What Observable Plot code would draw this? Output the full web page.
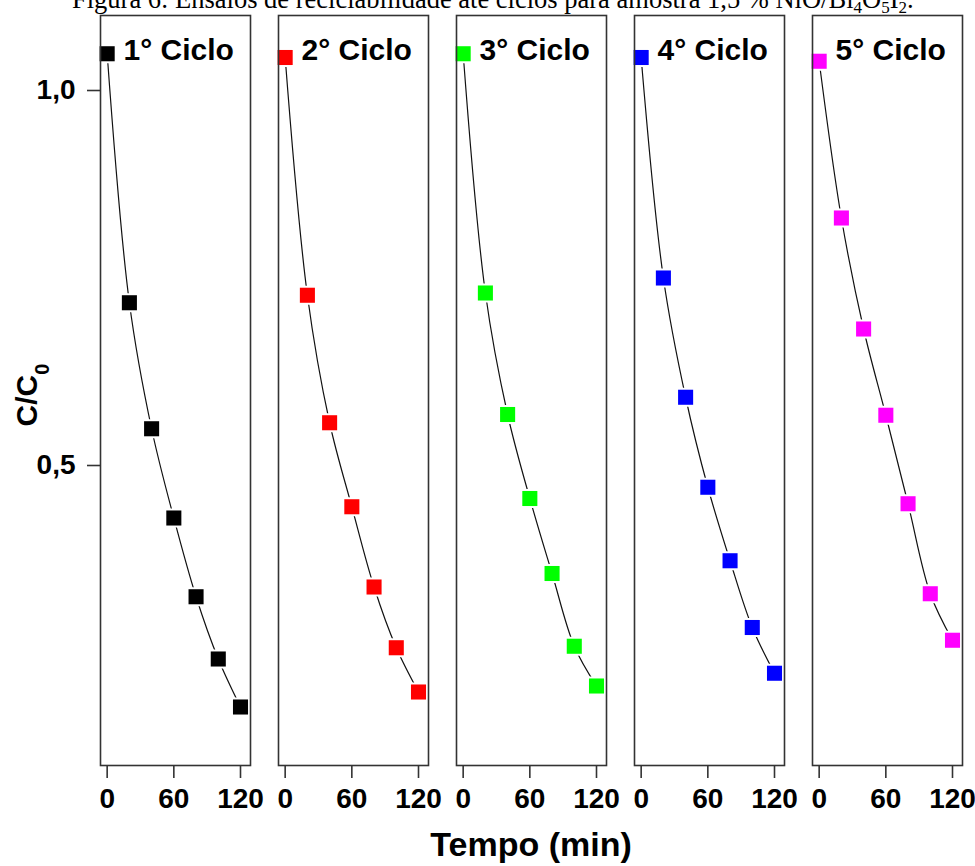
<!DOCTYPE html>
<html>
<head>
<meta charset="utf-8">
<script src="https://cdn.jsdelivr.net/npm/d3@7"></script>
<script src="https://cdn.jsdelivr.net/npm/@observablehq/plot@0.6"></script>
<style>
  html, body { margin: 0; padding: 0; background: #fff; }
  #wrap { position: relative; width: 975px; height: 866px; overflow: hidden; }
  #chart { position: absolute; left: 0; top: 0; }
  #caption {
    position: absolute; left: 72px; top: -14px; z-index: 2;
    font-family: "Liberation Serif", "Times New Roman", serif;
    font-size: 26.5px; line-height: 26.5px; white-space: nowrap; color: #000;
  }
  #caption sub { font-size: 17px; vertical-align: -5px; line-height: 0; }
</style>
</head>
<body>
<div id="wrap">
  <div id="caption">Figura 6: Ensaios de reciclabilidade até ciclos para amostra 1,5 % NiO/Bi<sub>4</sub>O<sub>5</sub>I<sub>2</sub>.</div>
  <div id="chart"></div>
</div>
<script>
const times = [0, 20, 40, 60, 80, 100, 120];
const cycles = ["1° Ciclo", "2° Ciclo", "3° Ciclo", "4° Ciclo", "5° Ciclo"];
const cycle1 = [1.049, 0.717, 0.549, 0.430, 0.325, 0.242, 0.178];
const cycle2 = [1.044, 0.727, 0.557, 0.445, 0.338, 0.257, 0.198];
const cycle3 = [1.049, 0.730, 0.568, 0.456, 0.356, 0.259, 0.206];
const cycle4 = [1.044, 0.750, 0.591, 0.471, 0.373, 0.284, 0.223];
const cycle5 = [1.039, 0.830, 0.682, 0.567, 0.449, 0.329, 0.267];
const colors = ["#000000", "#ff0000", "#00ff00", "#0000ff", "#ff00ff"];
const xTicks = [0, 60, 120];
const yTicks = [0.5, 1.0];
const yTickLabels = ["0,5", "1,0"];

const series = [cycle1, cycle2, cycle3, cycle4, cycle5];
const data = cycles.flatMap((c, i) => series[i].map((v, j) => ({cycle: c, t: times[j], v})));

const FONT = "'Liberation Sans', Arial, sans-serif";

const plot = Plot.plot({
  width: 975,
  height: 866,
  marginLeft: 100,
  marginRight: 12,
  marginTop: 15,
  marginBottom: 101,
  style: {fontFamily: FONT, fontWeight: "bold", color: "#000", background: "transparent"},
  fx: {domain: cycles, paddingInner: 0.157, paddingOuter: 0, axis: null, label: null},
  x: {domain: [-6, 129], label: null},
  y: {domain: [0.1, 1.1], label: null},
  color: {domain: cycles, range: colors},
  marks: [
    Plot.axisX({ticks: xTicks, tickSize: 13, tickPadding: 10, stroke: "#333", strokeWidth: 1.6,
      fill: "#000", fontSize: 28, fontWeight: "bold", label: null}),
    Plot.axisY({ticks: yTicks, tickFormat: d => yTickLabels[yTicks.indexOf(d)], tickSize: 13, tickPadding: 12,
      stroke: "#333", strokeWidth: 1.6, fill: "#000", fontSize: 28, fontWeight: "bold", label: null}),
    Plot.line(data, {x: "t", y: "v", fx: "cycle", curve: "catmull-rom", stroke: "#111", strokeWidth: 1.2}),
    Plot.dot(data, {x: "t", y: "v", fx: "cycle", symbol: "square", r: 8.5, fill: "cycle",
      stroke: "white", strokeWidth: 4, paintOrder: "stroke"}),
    Plot.text(cycles, {fx: d => d, text: d => d, frameAnchor: "top-left", dx: 23, dy: 35,
      textAnchor: "start", lineAnchor: "middle", fontSize: 30, fontWeight: "bold", fill: "#000"}),
    Plot.frame({stroke: "#333", strokeWidth: 1.6})
  ]
});

document.getElementById("chart").appendChild(plot);

const svg = d3.select(plot);
const yl = svg.append("text")
  .attr("transform", "translate(37,395) rotate(-90)")
  .attr("text-anchor", "middle")
  .attr("font-family", FONT)
  .attr("font-weight", "bold")
  .attr("font-size", 30)
  .attr("fill", "#000");
yl.append("tspan").text("C/C");
yl.append("tspan").attr("font-size", 20).attr("dy", 12).text("0");

svg.append("text")
  .attr("x", 531)
  .attr("y", 856)
  .attr("text-anchor", "middle")
  .attr("font-family", FONT)
  .attr("font-weight", "bold")
  .attr("font-size", 34)
  .attr("fill", "#000")
  .text("Tempo (min)");
</script>
</body>
</html>
